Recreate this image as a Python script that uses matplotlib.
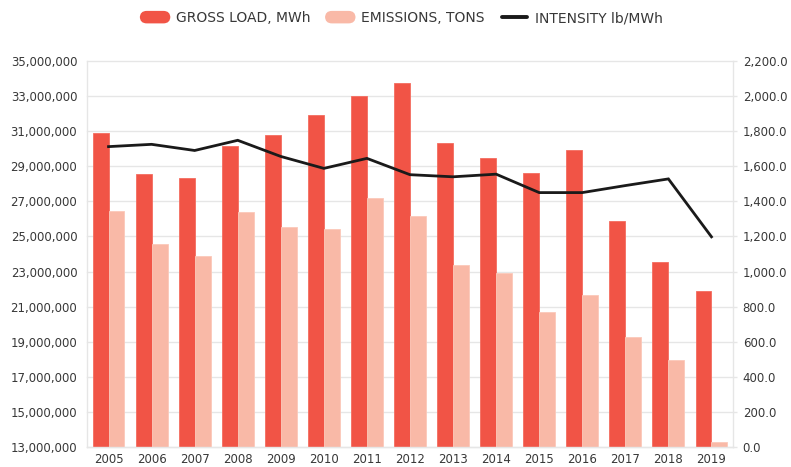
import matplotlib
matplotlib.use("Agg")
import matplotlib.pyplot as plt
import numpy as np
from matplotlib.patches import FancyBboxPatch, Patch
from matplotlib.lines import Line2D
from matplotlib.legend_handler import HandlerPatch, HandlerLine2D
from matplotlib.ticker import FuncFormatter, MultipleLocator

plt.rcParams['font.family'] = ['DejaVu Sans']

years = ['2005', '2006', '2007', '2008', '2009', '2010', '2011', '2012',
         '2013', '2014', '2015', '2016', '2017', '2018', '2019']
gross_load = [30.87e6, 28.54e6, 28.31e6, 30.17e6, 30.76e6, 31.94e6, 33.02e6, 33.76e6,
              30.32e6, 29.49e6, 28.60e6, 29.94e6, 25.88e6, 23.52e6, 21.91e6]
emissions = [26.43e6, 24.58e6, 23.87e6, 26.37e6, 25.54e6, 25.44e6, 27.17e6, 26.14e6,
             23.35e6, 22.90e6, 20.71e6, 21.66e6, 19.25e6, 17.96e6, 13.28e6]
intensity = [1712, 1725, 1690, 1748, 1656, 1588, 1645, 1552,
             1540, 1555, 1450, 1450, 1490, 1528, 1198]
labels = ['GROSS LOAD, MWh', 'EMISSIONS, TONS', 'INTENSITY lb/MWh']
left_ticks = [13e6, 15e6, 17e6, 19e6, 21e6, 23e6, 25e6, 27e6, 29e6, 31e6, 33e6, 35e6]

c_red = '#F15446'
c_salmon = '#F9B9A7'
c_line = '#1a1a1a'
c_grid = '#e6e6e6'
c_text = '#383838'

fig = plt.figure(figsize=(7.91, 4.67), dpi=100)
ax = fig.add_axes([87/791, 1-447/467, (733-87)/791, (447-61)/467])
ax2 = ax.twinx()

x = np.arange(len(years))
w = 0.37
base = 13e6
ax.bar(x - w/2, np.array(gross_load) - base, width=w, bottom=base, color=c_red,
       edgecolor='#f46d60', linewidth=0.6, zorder=2)
ax.bar(x + w/2, np.array(emissions) - base, width=w, bottom=base, color=c_salmon,
       edgecolor='#fbc9ba', linewidth=0.6, zorder=2)

ax.set_ylim(13e6, 35e6)
ax.set_yticks(left_ticks)
ax.yaxis.set_major_formatter(FuncFormatter(lambda v, p: f'{v:,.0f}'))
ax.set_xlim(-0.5, len(years) - 0.5)
ax.set_xticks(x)
ax.set_xticklabels(years)
ax.grid(axis='y', color=c_grid, linewidth=1.0, zorder=0, clip_on=False)
ax.set_axisbelow(True)
ax.spines['top'].set_visible(False)
for s in ['left', 'right', 'bottom']:
    ax.spines[s].set_color(c_grid)
    ax.spines[s].set_linewidth(1.0)
ax.tick_params(axis='y', length=0, pad=7, labelsize=8.5, labelcolor=c_text)
ax.tick_params(axis='x', length=0, pad=4.5, labelsize=8.5, labelcolor=c_text)

ax2.plot(x, intensity, color=c_line, linewidth=2.0, solid_joinstyle='miter', zorder=5)
ax2.set_ylim(0, 2200)
ax2.yaxis.set_major_locator(MultipleLocator(200))
ax2.yaxis.set_major_formatter(FuncFormatter(lambda v, p: f'{v:,.1f}'))
for s in ['top', 'left', 'bottom', 'right']:
    ax2.spines[s].set_visible(False)
ax2.tick_params(axis='y', length=3, color=c_grid, width=1.0, pad=4, labelsize=8.5, labelcolor=c_text)


class RoundHandler(HandlerPatch):
    def create_artists(self, legend, orig_handle, xdescent, ydescent, width, height, fontsize, trans):
        p = FancyBboxPatch((-xdescent, -ydescent - 1), width, height + 2,
                           boxstyle='round,pad=0,rounding_size=5',
                           facecolor=orig_handle.get_facecolor(), edgecolor='none',
                           transform=trans)
        return [p]


class ShortLine(HandlerLine2D):
    def create_artists(self, legend, orig_handle, xdescent, ydescent, width, height, fontsize, trans):
        l = Line2D([-xdescent + 2, -xdescent + width - 2],
                   [height / 2 - ydescent, height / 2 - ydescent],
                   color=orig_handle.get_color(), linewidth=orig_handle.get_linewidth(),
                   solid_capstyle='round', transform=trans)
        return [l]


handles = [Patch(facecolor=c_red), Patch(facecolor=c_salmon),
           Line2D([0], [0], color=c_line, linewidth=2.8)]
fig.legend(handles, labels, loc='center', bbox_to_anchor=(401.5/791, 1 - 18/467), ncol=3,
           frameon=False, fontsize=10, handlelength=2.2, handleheight=0.7,
           columnspacing=1.05, handletextpad=0.4, labelcolor=c_text,
           handler_map={Patch: RoundHandler(), Line2D: ShortLine()})

fig.savefig('out.png', dpi=100)
